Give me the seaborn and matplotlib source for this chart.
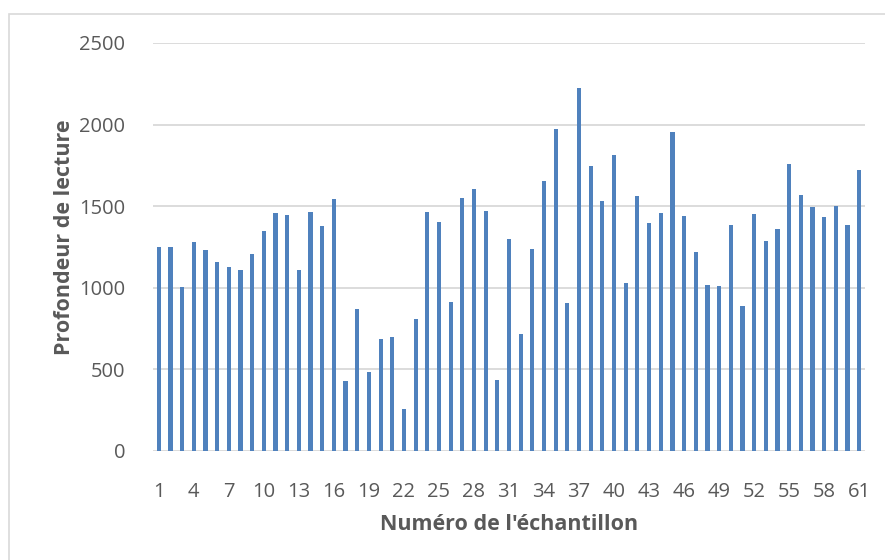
import matplotlib
matplotlib.use("Agg")
import matplotlib.pyplot as plt
import seaborn as sns
import pandas as pd
from matplotlib.patches import Rectangle

samples = list(range(1, 62))
depth = [1251, 1251, 1004, 1278, 1231, 1157, 1125, 1112, 1208, 1349,
         1461, 1447, 1110, 1467, 1380, 1543, 431, 873, 486, 686,
         698, 255, 808, 1467, 1404, 910, 1553, 1604, 1473, 433,
         1298, 718, 1239, 1655, 1971, 906, 2226, 1745, 1533, 1816,
         1027, 1561, 1396, 1459, 1957, 1441, 1220, 1020, 1014, 1386,
         886, 1451, 1286, 1361, 1757, 1571, 1494, 1431, 1502, 1382,
         1724]
yticks = [0, 500, 1000, 1500, 2000, 2500]
xlabel = "Numéro de l'échantillon"
ylabel = "Profondeur de lecture"

sns.set_theme(style="white")
plt.rcParams['font.family'] = ['Open Sans', 'DejaVu Sans']

df = pd.DataFrame({"sample": samples, "depth": depth})

fig = plt.figure(figsize=(8.85, 5.6), dpi=100)
ax = fig.add_axes([153/885, 1-451/560, (865-153)/885, (451-43)/560])

sns.barplot(data=df, x="sample", y="depth", order=samples, color="#4f81bd",
            saturation=1, width=0.36, linewidth=0, ax=ax, zorder=3)

ax.set_ylim(0, 2500)
ax.set_xlim(-0.5, len(samples) - 0.5)
ax.set_yticks(yticks)
ax.set_yticklabels([str(v) for v in yticks])
pos = list(range(0, len(samples), 3))
ax.set_xticks(pos)
ax.set_xticklabels([str(samples[i]) for i in pos])

for v in yticks:
    ax.axhline(v, color="#d9d9d9", lw=1.3, zorder=1)

for s in ax.spines.values():
    s.set_visible(False)

ax.tick_params(axis="both", length=0, colors="#595959", labelsize=14.5)
ax.tick_params(axis="x", pad=22)
ax.tick_params(axis="y", pad=20)

ax.set_xlabel(xlabel, fontsize=15.5, fontweight="bold", color="#595959", labelpad=9)
ax.set_ylabel(ylabel, fontsize=15.5, fontweight="bold", color="#595959")
ax.yaxis.set_label_coords(-0.110, 0.524)

fig.patches.append(Rectangle((8.5/885, -0.02), 1.05, 1 - 14/560 + 0.02,
                             transform=fig.transFigure, fill=False,
                             edgecolor="#d9d9d9", lw=1.2))

fig.savefig("out.png", dpi=100, facecolor="white")
